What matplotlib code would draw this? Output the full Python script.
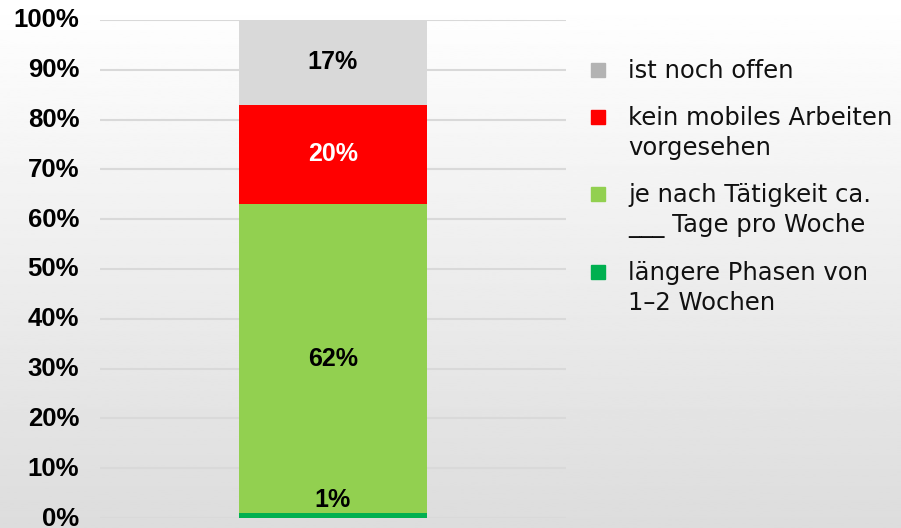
import matplotlib.pyplot as plt
import matplotlib.transforms as mtransforms
import numpy as np

# data
categories = ["längere Phasen von\n1–2 Wochen",
              "je nach Tätigkeit ca.\n___ Tage pro Woche",
              "kein mobiles Arbeiten\nvorgesehen",
              "ist noch offen"]
values = [1, 62, 20, 17]
bar_colors = ["#00b050", "#92d050", "#ff0000", "#d9d9d9"]
legend_colors = ["#00b050", "#92d050", "#ff0000", "#b3b3b3"]
label_colors = ["black", "black", "white", "black"]
yticks = [0, 10, 20, 30, 40, 50, 60, 70, 80, 90, 100]

fig = plt.figure(figsize=(9.01, 5.28), dpi=100)

# light paper-like background
bg = fig.add_axes([0, 0, 1, 1], zorder=-1)
grad = np.linspace(1.0, 0.93, 256).reshape(-1, 1) ** 2
bg.imshow(grad, cmap="gray", vmin=0, vmax=1, aspect="auto", extent=[0, 1, 0, 1])
bg.axis("off")

ax = fig.add_axes([100 / 901, 1 - 518 / 528, 466 / 901, 498 / 528])
ax.patch.set_alpha(0)

bottom = 0
for v, c, lc in zip(values, bar_colors, label_colors):
    ax.bar(0, v, width=0.403, bottom=bottom, color=c, zorder=3)
    if v < 5:
        ypos = bottom + v + 2.6
    else:
        ypos = bottom + v / 2
    ax.text(0, ypos, f"{v}%", ha="center", va="center", fontsize=18,
            fontweight="bold", color=lc, family="Liberation Sans", zorder=4)
    bottom += v

ax.set_xlim(-0.5, 0.5)
ax.set_ylim(0, 100)
ax.set_yticks(yticks)
ax.set_yticklabels([f"{t}%" for t in yticks], fontsize=18.5, fontweight="bold",
                   family="Liberation Sans")
ax.set_xticks([])
ax.tick_params(axis="y", length=0, pad=15)
ax.yaxis.grid(True, color="#d9d9d9", linewidth=1.5, zorder=0)
for s in ax.spines.values():
    s.set_visible(False)
# nudge tick labels up a little so 0% stays inside the picture
shift = mtransforms.ScaledTranslation(0, 2 / 100, fig.dpi_scale_trans)
for lbl in ax.get_yticklabels():
    lbl.set_transform(lbl.get_transform() + shift)

# legend drawn by hand so the marker sits on the first line
leg_y = [70, 117, 194, 272]
for cat, c, y in zip(categories[::-1], legend_colors[::-1], leg_y):
    fy = 1 - y / 528
    fig.patches.append(plt.Rectangle((591 / 901, fy - 7 / 528), 14 / 901, 14 / 528,
                                     transform=fig.transFigure, color=c))
    fig.text(628 / 901, fy + 11 / 528, cat, ha="left", va="top", fontsize=17.5,
             family="DejaVu Sans", linespacing=1.3, color="#111111")

fig.savefig("out.png", dpi=100)
plt.close()
